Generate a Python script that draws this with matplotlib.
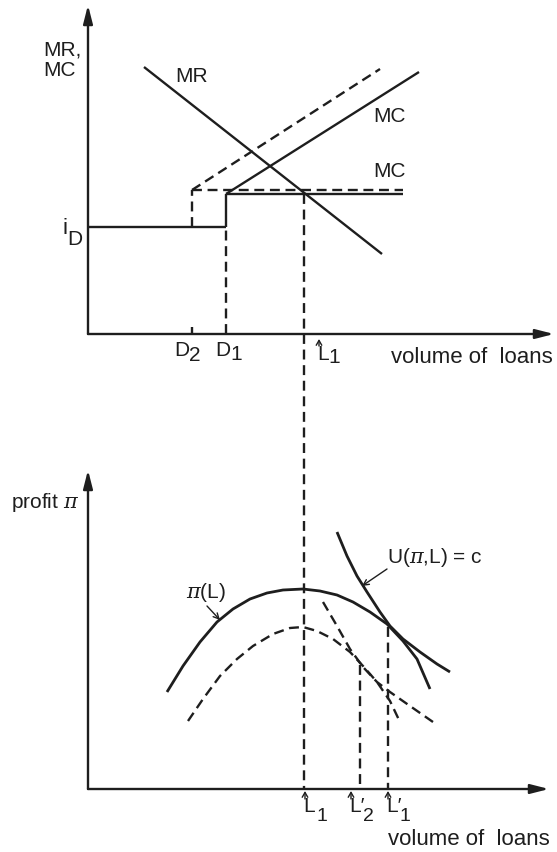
import matplotlib
matplotlib.use('Agg')
import matplotlib.pyplot as plt

plt.rcParams['font.family'] = ['Liberation Sans', 'DejaVu Sans']
plt.rcParams['mathtext.fontset'] = 'dejavuserif'

ink = '#1e1e1e'

# upper panel: deposit rate, marginal revenue and marginal cost of loans
i_D = 10.7
D2, D1 = 10.4, 13.8
L1 = 21.6
mc_level = 14.0          # MC once deposits D1 are used up
mc_level_shift = 14.4    # same schedule with deposits D2
mc_flat_end = 31.5
mc_x = [13.8, 33.1]
mc_y = [14.0, 26.2]
mc_shift_x = [10.4, 29.2]
mc_shift_y = [14.4, 26.5]
mr_x = [5.6, 29.4]
mr_y = [26.7, 8.0]

# lower panel: profit as a function of loan volume
pi_x = [7.9, 9.5, 11.2, 12.9, 14.5, 16.2, 17.9, 19.5, 21.5, 23.2, 24.9, 26.5, 28.2, 29.9, 31.5, 32.9, 34.2]
pi_y = [9.7, 12.3, 14.7, 16.7, 18.0, 19.0, 19.6, 19.9, 20.0, 19.8, 19.4, 18.7, 17.7, 16.5, 14.8, 13.0, 10.0]
pi2_x = [10.0, 11.5, 13.2, 14.9, 16.5, 18.5, 20.2, 21.5, 22.9, 24.5, 26.2, 27.5, 28.9, 30.2, 31.2]
pi2_y = [6.8, 9.0, 11.3, 13.0, 14.3, 15.5, 16.1, 16.2, 15.8, 15.0, 13.7, 12.3, 10.7, 8.8, 6.7]
u_x = [24.9, 25.9, 26.9, 27.9, 29.2, 30.2, 31.5, 33.2, 34.9, 36.2]
u_y = [25.7, 23.3, 21.3, 19.7, 17.7, 16.3, 15.0, 13.7, 12.5, 11.7]
u2_x = [23.5, 24.9, 26.2, 27.5, 28.9, 30.2, 32.2, 34.5]
u2_y = [18.7, 16.3, 14.0, 12.2, 10.7, 9.7, 8.3, 6.7]
L2p, L1p = 27.2, 30.0
L2p_top, L1p_top = 12.4, 16.2

W, H = 557, 853
fig = plt.figure(figsize=(W / 100, H / 100), dpi=100)
ax1 = fig.add_axes([88 / W, (H - 335) / H, (W - 88) / W, 335 / H])
ax2 = fig.add_axes([88 / W, (H - 790) / H, (W - 88) / W, (790 - 335) / H])
ax1.set_xlim(0, (W - 88) / 10)
ax1.set_ylim(0, 33.5)
ax2.set_xlim(0, (W - 88) / 10)
ax2.set_ylim(0, 45.5)
for ax in (ax1, ax2):
    ax.axis('off')

solid = dict(color=ink, lw=1.7, solid_capstyle='butt', solid_joinstyle='round', clip_on=False)
dashed = dict(color=ink, lw=1.7, linestyle=(0, (4.2, 2.4)), clip_on=False)
fs = 15


def axis_arrow(ax, x0, y0, x1, y1):
    ax.annotate('', xy=(x1, y1), xytext=(x0, y0),
                arrowprops=dict(arrowstyle='-|>,head_length=1.1,head_width=0.28',
                                lw=1.7, color=ink, shrinkA=0, shrinkB=0))


def caret(ax, x, y0, y1):
    ax.annotate('', xy=(x, y1), xytext=(x, y0), annotation_clip=False,
                arrowprops=dict(arrowstyle='->,head_length=0.35,head_width=0.2',
                                lw=1.0, color=ink, shrinkA=0, shrinkB=0))


# ---- upper panel ----
axis_arrow(ax1, 0, 0, 0, 32.9)
axis_arrow(ax1, 0, 0, 46.6, 0)

ax1.plot([0, D1], [i_D, i_D], **solid)
ax1.plot([D1, D1], [i_D, mc_level], [D1, mc_flat_end], [mc_level, mc_level], **solid)
ax1.plot(mc_x, mc_y, **solid)
ax1.plot(mr_x, mr_y, **solid)
ax1.plot([D1, D1], [0, i_D], **dashed)
ax1.plot([D2, D2], [i_D, mc_level_shift], [D2, mc_flat_end], [mc_level_shift, mc_level_shift], **dashed)
ax1.plot(mc_shift_x, mc_shift_y, **dashed)
ax1.plot([D2, D2], [0, 0.7], **solid)
ax1.plot([L1, L1], [mc_level, 0], **dashed)

ax1.text(-4.5, 28.5, 'MR,', fontsize=fs, ha='left', va='center', color=ink)
ax1.text(-4.5, 26.5, 'MC', fontsize=fs, ha='left', va='center', color=ink)
ax1.text(10.4, 25.8, 'MR', fontsize=fs, ha='center', va='center', color=ink)
ax1.text(28.5, 21.8, 'MC', fontsize=fs, ha='left', va='center', color=ink)
ax1.text(28.5, 16.3, 'MC', fontsize=fs, ha='left', va='center', color=ink)
ax1.text(-2.3, 10.6, 'i', fontsize=fs + 1, ha='center', va='center', color=ink)
ax1.text(-1.3, 9.5, 'D', fontsize=fs, ha='center', va='center', color=ink)
ax1.text(9.4, -1.6, 'D', fontsize=fs, ha='center', va='center', color=ink)
ax1.text(10.7, -2.1, '2', fontsize=fs, ha='center', va='center', color=ink)
ax1.text(13.5, -1.6, 'D', fontsize=fs, ha='center', va='center', color=ink)
ax1.text(14.8, -2.0, '1', fontsize=fs, ha='center', va='center', color=ink)
caret(ax1, 23.1, -1.2, -0.5)
ax1.text(22.95, -1.0, 'L', fontsize=fs, ha='left', va='top', color=ink)
ax1.text(24.6, -2.3, '1', fontsize=fs, ha='center', va='center', color=ink)
ax1.text(30.3, -2.3, 'volume of  loans', fontsize=fs + 1, ha='left', va='center', color=ink)

# ---- lower panel ----
axis_arrow(ax2, 0, 0, 0, 31.9)
axis_arrow(ax2, 0, 0, 46.1, 0)

ax2.plot(pi_x, pi_y, **dict(solid, lw=2.0))
ax2.plot(u_x, u_y, **dict(solid, lw=2.0))
ax2.plot(pi2_x, pi2_y, **dashed)
ax2.plot(u2_x, u2_y, **dashed)
ax2.plot([L1, L1], [ax2.get_ylim()[1], 0], **dashed)
ax2.plot([L2p, L2p], [L2p_top, 0], **dashed)
ax2.plot([L1p, L1p], [L1p_top, 0], **dashed)

ax2.text(-7.7, 28.7, r'profit $\pi$', fontsize=fs, ha='left', va='center', color=ink)
ax2.text(11.8, 19.7, r'$\pi$(L)', fontsize=fs, ha='center', va='center', color=ink)
ax2.annotate('', xy=(13.2, 16.9), xytext=(11.9, 18.3),
             arrowprops=dict(arrowstyle='->,head_length=0.4,head_width=0.2', lw=1.0, color=ink,
                             shrinkA=0, shrinkB=0))
ax2.text(29.9, 23.2, r'U($\pi$,L) = c', fontsize=fs, ha='left', va='center', color=ink)
ax2.annotate('', xy=(27.4, 20.3), xytext=(29.9, 22.0),
             arrowprops=dict(arrowstyle='->,head_length=0.4,head_width=0.2', lw=1.0, color=ink,
                             shrinkA=0, shrinkB=0))

for x, sub, prime in [(L1, '1', False), (26.2, '2', True), (29.9, '1', True)]:
    caret(ax2, x + 0.1, -1.0, -0.2)
    ax2.text(x - 0.05, -0.7, "L\u2032" if prime else 'L', fontsize=fs, ha='left', va='top', color=ink)
    ax2.text(x + 1.8, -2.7, sub, fontsize=fs - 1, ha='center', va='center', color=ink)
ax2.text(30.0, -5.0, 'volume of  loans', fontsize=fs + 1, ha='left', va='center', color=ink)

fig.savefig('out.png', dpi=100)
